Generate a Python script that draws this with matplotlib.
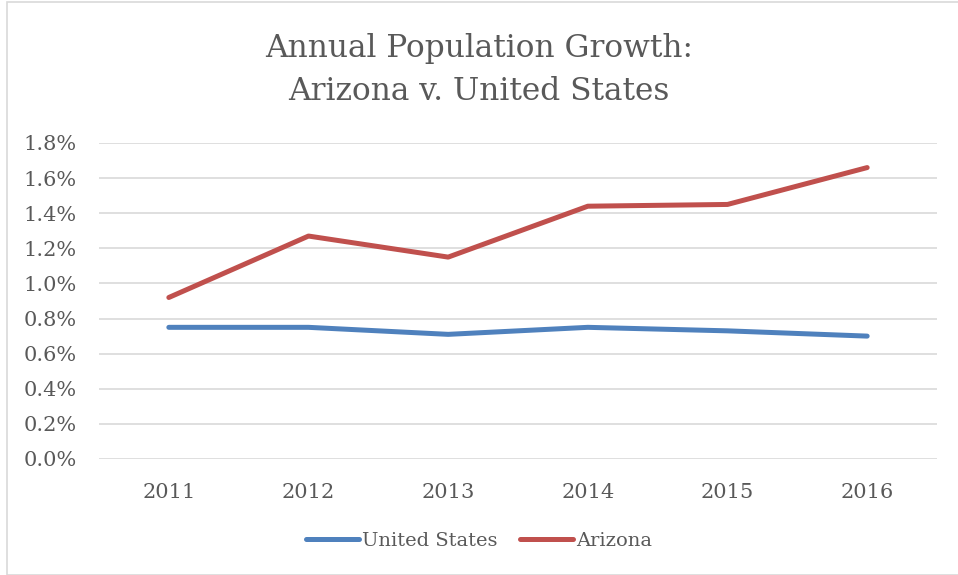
import numpy as np
import matplotlib
matplotlib.use("Agg")
import matplotlib.pyplot as plt
from matplotlib.patches import Rectangle

# Dados
anos = ["2011", "2012", "2013", "2014", "2015", "2016"]
crescimento_eua = [0.75, 0.75, 0.71, 0.75, 0.73, 0.70]
crescimento_arizona = [0.92, 1.27, 1.15, 1.44, 1.45, 1.66]

cor_texto = "#595959"
plt.rcParams["font.family"] = ["DejaVu Serif"]

fig = plt.figure(figsize=(9.58, 5.75), dpi=100)
ax = fig.add_axes([99 / 958, 1 - 459 / 575, (937 - 99) / 958, (459 - 143) / 575])

x = np.arange(len(anos))
ax.plot(x, crescimento_eua, color="#4f81bd", lw=3.6, solid_capstyle="round",
        solid_joinstyle="round", label="United States")
ax.plot(x, crescimento_arizona, color="#c0504d", lw=3.6, solid_capstyle="round",
        solid_joinstyle="round", label="Arizona")

ax.set_xlim(-0.5, len(anos) - 0.5)
ax.set_ylim(0, 1.8)
ax.set_yticks(np.arange(0, 1.81, 0.2))
ax.set_yticklabels([f"{v:.1f}%" for v in np.arange(0, 1.81, 0.2)])
ax.set_xticks(x)
ax.set_xticklabels(anos)
ax.grid(axis="y", color="#d9d9d9", lw=1.2)
ax.set_axisbelow(True)
for s in ax.spines.values():
    s.set_visible(False)
ax.tick_params(length=0, labelsize=15, colors=cor_texto)
ax.tick_params(axis="y", pad=16)
ax.tick_params(axis="x", pad=17)

fig.text(0.5, 1 - 70 / 575, "Annual Population Growth:\nArizona v. United States",
         ha="center", va="center", fontsize=22.5, color=cor_texto, linespacing=1.5)

leg = fig.legend(loc="center", bbox_to_anchor=(0.5, 1 - 541 / 575), ncol=2,
                 frameon=False, fontsize=14, handlelength=2.7, handletextpad=0.15,
                 columnspacing=1.2, labelcolor=cor_texto)

fig.patches.append(Rectangle((7 / 958, 0), 1, 1 - 2 / 575, transform=fig.transFigure,
                             fill=False, edgecolor="#d9d9d9", lw=1.2))

fig.savefig("out.png", dpi=100)
